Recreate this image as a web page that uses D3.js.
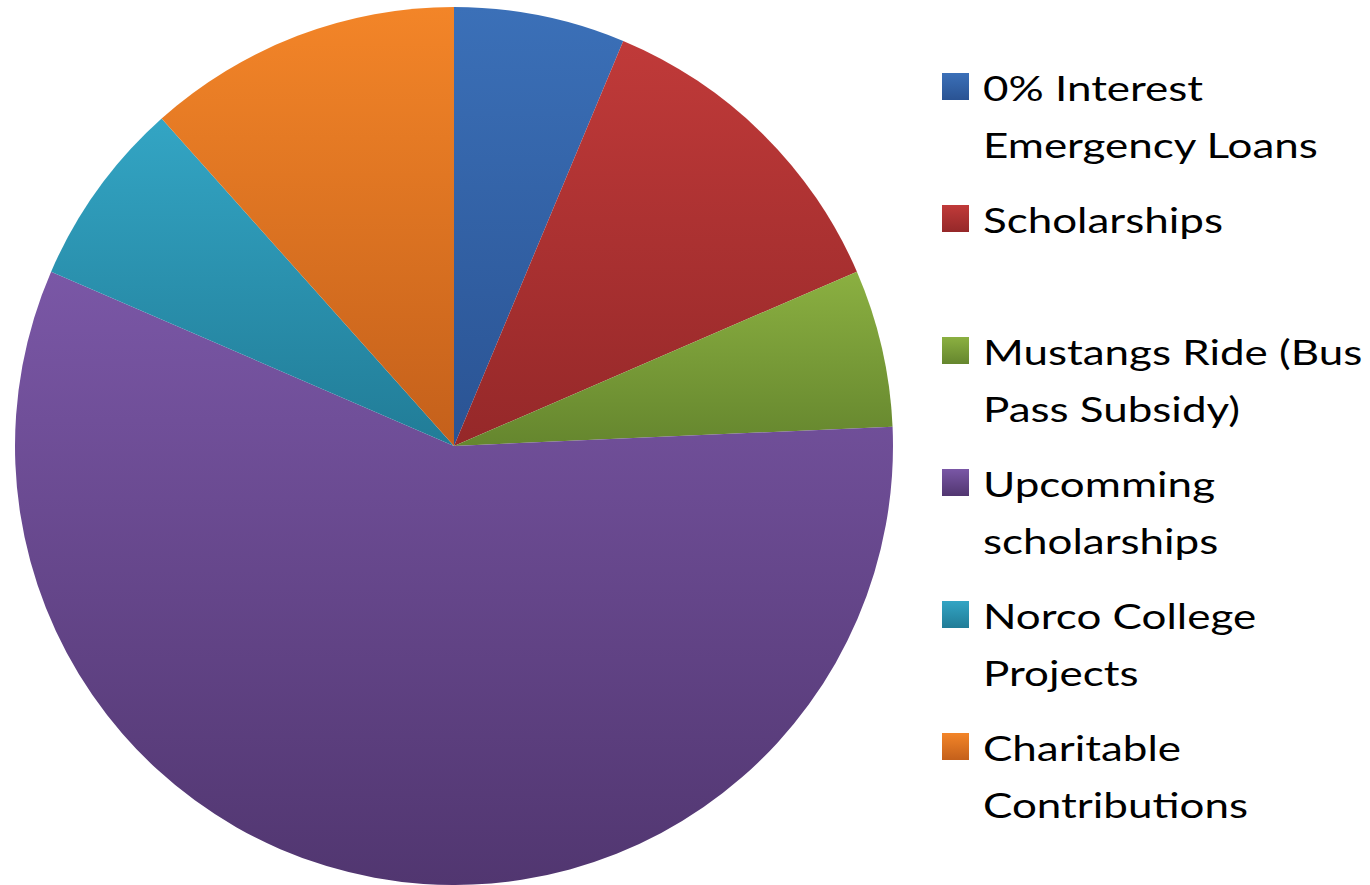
<!DOCTYPE html>
<html><head><meta charset="utf-8">
<script src="https://cdn.jsdelivr.net/npm/d3@7"></script>
<style>html,body{margin:0;padding:0;background:#fff;overflow:hidden}</style>
</head><body>
<svg id="chart" width="1370" height="885"></svg>
<script>
const categories = ["0% Interest Emergency Loans","Scholarships","Mustangs Ride (Bus Pass Subsidy)","Upcomming scholarships","Norco College Projects","Charitable Contributions"];
const values = [6.3, 12.2, 5.8, 57.2, 6.9, 11.6];
const legendLines = [["0% Interest","Emergency Loans"],["Scholarships",""],["Mustangs Ride (Bus","Pass Subsidy)"],["Upcomming","scholarships"],["Norco College","Projects"],["Charitable","Contributions"]];
const topColors = ["#3b70b8","#c03a39","#8bb041","#7a57a6","#33a5c4","#f38528"];
const bottomColors = ["#2a5393","#952829","#65862e","#513670","#217c97","#c4601b"];

const svg = d3.select("#chart");
const defs = svg.append("defs");
categories.forEach((c,i)=>{
  const g = defs.append("linearGradient").attr("id","g"+i).attr("x1",0).attr("y1",0).attr("x2",0).attr("y2",1);
  g.append("stop").attr("offset","0%").attr("stop-color",topColors[i]);
  g.append("stop").attr("offset","100%").attr("stop-color",bottomColors[i]);
});

const cx = 454, cy = 446, r = 439;
const pie = d3.pie().sort(null).value(d=>d)(values);
const arc = d3.arc().innerRadius(0).outerRadius(r);
const pg = svg.append("g").attr("transform",`translate(${cx},${cy})`);
pg.selectAll("path").data(pie).join("path")
  .attr("d",arc).attr("fill",(d,i)=>`url(#g${i})`);

// legend
const lg = svg.append("g").attr("transform","translate(942,0)");
const lineH = 57, gap = 18, start = 101;
const color = d3.scaleOrdinal().domain(categories).range(categories.map((c,i)=>`url(#g${i})`));
const tg = [];
legendLines.forEach((lines,i)=>{
  const b = start + i*(2*lineH+gap);
  lg.append("rect").attr("x",0).attr("y",b-28).attr("width",27).attr("height",27).attr("fill",color(categories[i]));
  const t = lg.append("text").attr("x",41).attr("y",b)
    .style("font-family","Lato, 'Open Sans', sans-serif").style("font-size","35px").attr("fill","#000");
  lines.forEach((l,j)=>{ if(l) t.append("tspan").attr("x",41).attr("y",b+j*lineH).text(l); });
  tg.push(t);
});
// fit horizontal extent to reference text width
const probe = tg[0].selectAll("tspan").nodes()[1];
const w = probe.getComputedTextLength();
const sx = 335 / w;
tg.forEach(t=>t.attr("transform",`translate(41,0) scale(${sx},1) translate(-41,0)`));
</script>
</body></html>
